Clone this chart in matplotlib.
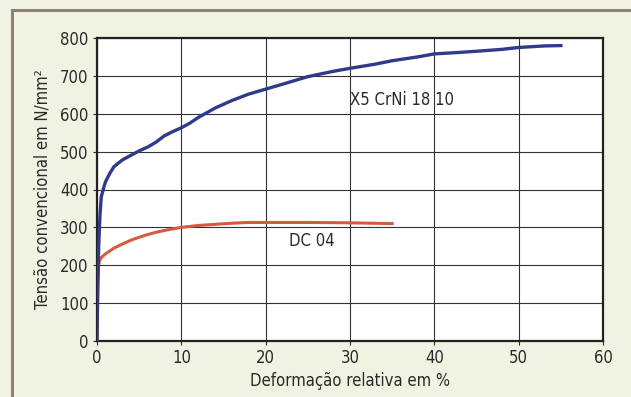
import matplotlib.pyplot as plt
from matplotlib.lines import Line2D

# ---------------- data ----------------
x5_strain = [0, 0.1, 0.2, 0.35, 0.5, 0.8, 1, 1.5, 2, 3, 4, 5, 6, 7, 8, 9, 10,
             11, 12, 14, 16, 18, 20, 22, 25, 28, 30, 33, 35, 38, 40, 43, 45,
             48, 50, 53, 55]
x5_stress = [0, 150, 250, 330, 380, 405, 420, 442, 460, 478, 490, 502, 512,
             525, 542, 553, 563, 575, 590, 615, 635, 652, 665, 678, 698, 712,
             720, 731, 740, 750, 758, 762, 765, 770, 775, 779, 780]

dc_strain = [0, 0.05, 0.1, 0.2, 0.3, 0.5, 0.8, 1, 2, 3, 4, 5, 6, 7, 8, 9, 10,
             12, 14, 16, 18, 20, 25, 30, 35]
dc_stress = [0, 100, 160, 200, 212, 220, 226, 230, 245, 256, 266, 274, 281,
             287, 292, 296, 300, 305, 308, 311, 313, 313, 313, 312, 310]

x_ticks = [0, 10, 20, 30, 40, 50, 60]
y_ticks = [0, 100, 200, 300, 400, 500, 600, 700, 800]

plt.rcParams['font.family'] = ['DejaVu Sans']
plt.rcParams['font.stretch'] = 'condensed'

txt = '#2a2a2a'
bg = '#f1f3e2'
fig = plt.figure(figsize=(6.31, 3.97), dpi=100, facecolor=bg)
ax = fig.add_axes([97/631, 1-341/397, (603-97)/631, (341-38)/397])
ax.set_facecolor('white')

# scanned frame lines (left and top)
fig.add_artist(Line2D([12/631, 12/631], [0, 1-10/397], color='#8c8279', lw=2.2, transform=fig.transFigure))
fig.add_artist(Line2D([12/631, 1], [1-10/397, 1-10/397], color='#8c8279', lw=2.2, transform=fig.transFigure))

ax.plot(dc_strain, dc_stress, color='#d65a3c', lw=2.2, zorder=3)
ax.plot(x5_strain, x5_stress, color='#2f3a8a', lw=2.4, zorder=4)

ax.set_xlim(0, 60)
ax.set_ylim(0, 800)
ax.set_xticks(x_ticks)
ax.set_yticks(y_ticks)
ax.grid(True, color='#333333', lw=0.8)
ax.set_axisbelow(True)
for s in ax.spines.values():
    s.set_linewidth(1.6)
    s.set_color('#222222')
ax.tick_params(labelsize=12, length=3, width=0.8, colors=txt, pad=3)

ax.set_xlabel('Deformação relativa em %', fontsize=12, color=txt, labelpad=3)
ax.set_ylabel('Tensão convencional em N/mm²', fontsize=12, color=txt, labelpad=6)

ax.text(30, 636, 'X5 CrNi 18 10', fontsize=12, va='center', ha='left', color=txt)
ax.text(22.8, 264, 'DC 04', fontsize=12, va='center', ha='left', color=txt)

fig.savefig('out.png', dpi=100, facecolor=bg)
